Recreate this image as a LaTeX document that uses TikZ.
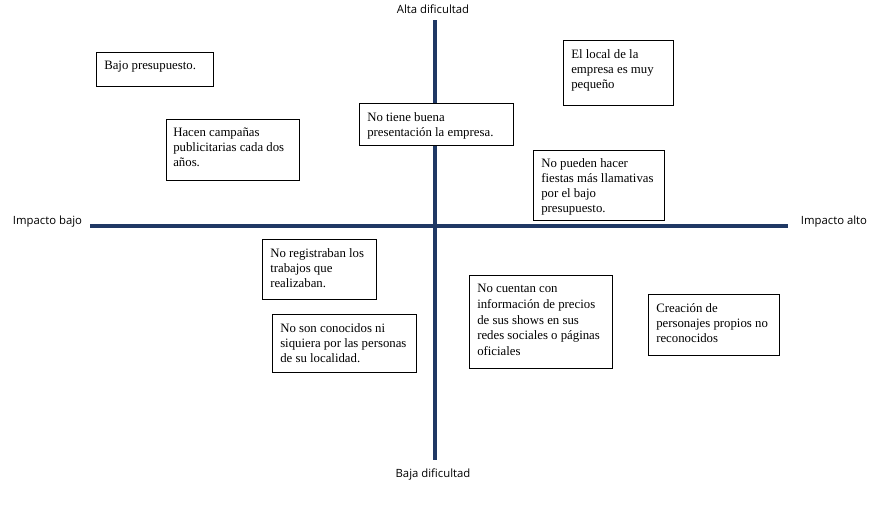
\documentclass[tikz,border=0pt]{standalone}
\usepackage{fontspec}
\setmainfont{Liberation Serif}
\newfontfamily\labelfont{Open Sans}
\usetikzlibrary{calc}
\definecolor{axisblue}{RGB}{31,56,100}
\tikzset{
  box/.style={draw=black, line width=0.75pt, fill=white, anchor=north west, inner sep=0pt},
  boxtext/.style={anchor=north west, inner sep=0pt, align=left, font=\fontsize{9.6}{11.25}\selectfont},
  axislabel/.style={font=\labelfont\fontsize{8.5}{10}\selectfont, inner sep=0pt},
  axisline/.style={draw=axisblue, line width=3pt}
}
\begin{document}
\begin{tikzpicture}[x=0.75pt,y=-0.75pt]
\useasboundingbox (0,0) rectangle (885,506);
% axes
\coordinate (vt) at (434.5,20.5);
\coordinate (vb) at (434.5,460);
\coordinate (hl) at (90,225.5);
\coordinate (hr) at (788,225.5);
\draw[axisline] (vt) -- (vb);
\draw[axisline] (hl) -- (hr);
% axis labels
\node[axislabel] (alta) at (433,9) {Alta dificultad};
\node[axislabel] (baja) at (433,475) {Baja dificultad};
\node[axislabel] (ibajo) at (47.5,222) {Impacto bajo};
\node[axislabel] (ialto) at (834,222) {Impacto alto};
% boxes
\node[box, minimum width=87.75pt, minimum height=25.5pt] (b1) at (96,52) {};
\node[boxtext] (t1) at ($(b1.north west)+(8,9)$) {Bajo presupuesto.};
\node[box, minimum width=99.75pt, minimum height=45.75pt] (b2) at (166,119) {};
\node[boxtext] (t2) at ($(b2.north west)+(7,9)$) {Hacen campañas\\publicitarias cada dos\\años.};
\node[box, minimum width=115.5pt, minimum height=31.5pt] (b3) at (359,103) {};
\node[boxtext] (t3) at ($(b3.north west)+(8,9)$) {No tiene buena\\presentación la empresa.};
\node[box, minimum width=82.5pt, minimum height=48.75pt] (b4) at (563,40) {};
\node[boxtext] (t4) at ($(b4.north west)+(8,9)$) {El local de la\\empresa es muy\\pequeño};
\node[box, minimum width=98.25pt, minimum height=52.5pt] (b5) at (533,150) {};
\node[boxtext] (t5) at ($(b5.north west)+(8,8)$) {No pueden hacer\\fiestas más llamativas\\por el bajo\\presupuesto.};
\node[box, minimum width=85.5pt, minimum height=45pt] (b6) at (262,239) {};
\node[boxtext] (t6) at ($(b6.north west)+(8,9)$) {No registraban los\\trabajos que\\realizaban.};
\node[box, minimum width=108pt, minimum height=43.5pt] (b7) at (272,314) {};
\node[boxtext] (t7) at ($(b7.north west)+(8,9)$) {No son conocidos ni\\siquiera por las personas\\de su localidad.};
\node[box, minimum width=107.25pt, minimum height=69.75pt] (b8) at (469,275) {};
\node[boxtext, font=\fontsize{9.6}{11.8}\selectfont] (t8) at ($(b8.north west)+(8,9)$) {No cuentan con\\información de precios\\de sus shows en sus\\redes sociales o páginas\\oficiales};
\node[box, minimum width=98.25pt, minimum height=45.75pt] (b9) at (648,294) {};
\node[boxtext] (t9) at ($(b9.north west)+(8,9)$) {Creación de\\personajes propios no\\reconocidos};
\end{tikzpicture}
\end{document}
